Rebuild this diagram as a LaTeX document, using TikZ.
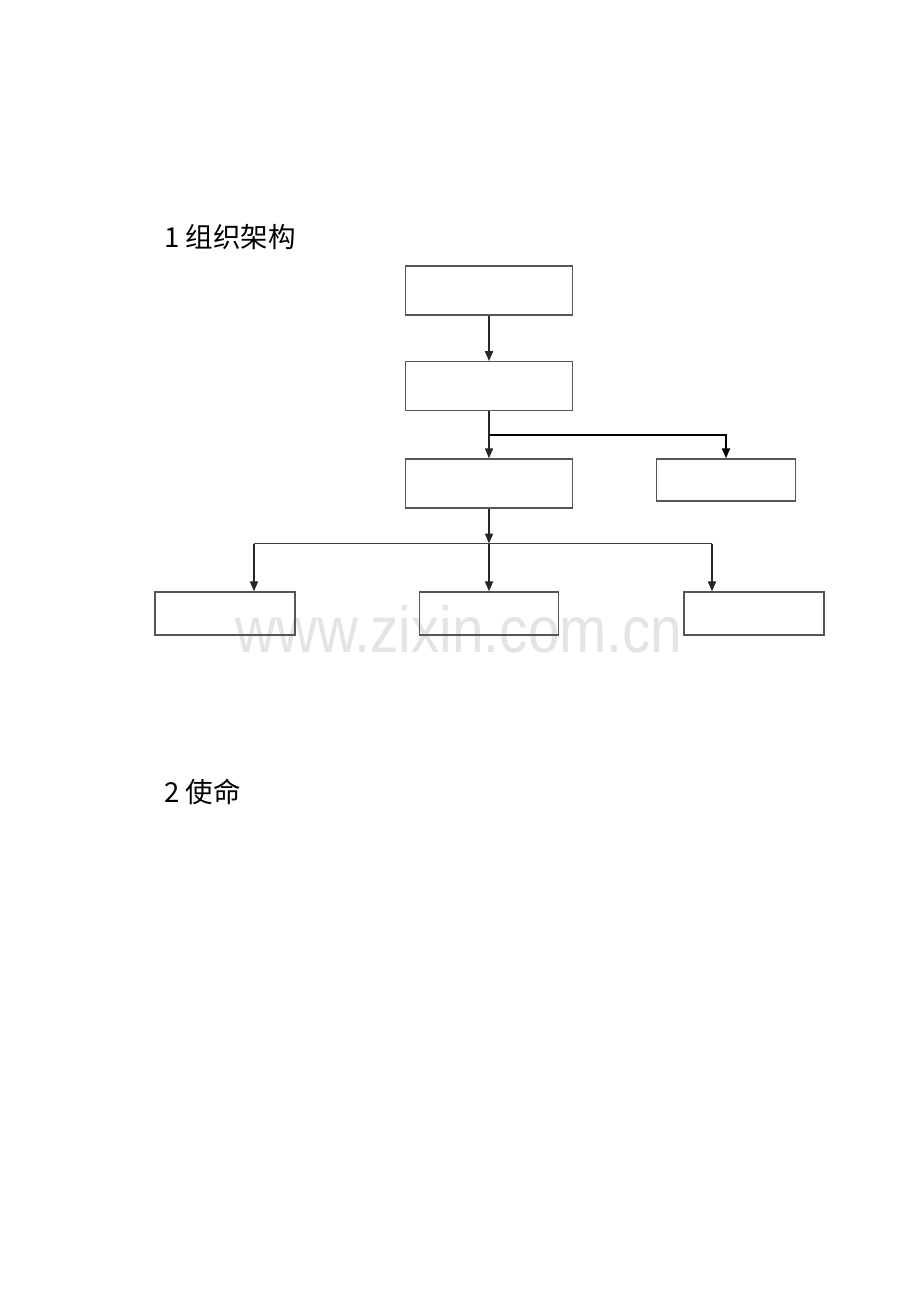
\documentclass[tikz,border=0pt]{standalone}
\usepackage{fontspec}
\setmainfont{Liberation Sans}
\newfontfamily\cjk{Noto Sans CJK SC}
\usetikzlibrary{arrows.meta}
\definecolor{boxline}{HTML}{555555}
\definecolor{wmark}{HTML}{E4E4E4}
\tikzset{
  orgbox/.style={draw=boxline, line width=1.3pt, fill=none, inner sep=0pt, minimum width=#1},
  orgbox/.default=167pt,
  conn/.style={draw=black!85, line width=1.7pt, -{Triangle[length=10pt,width=8pt]}},
  plainconn/.style={draw=black!75, line width=1.3pt},
  heading/.style={font=\cjk\fontsize{27.5pt}{32pt}\selectfont, anchor=west, inner sep=0pt},
}
\begin{document}
\begin{tikzpicture}[x=1pt,y=-1pt]
\useasboundingbox (0,0) rectangle (920,1302);
\fill[white] (0,0) rectangle (920,1302);
% watermark
\node[anchor=base west, inner sep=0pt, text=wmark, font=\fontsize{65pt}{70pt}\selectfont] (wm) at (235,652) {\scalebox{0.872}[1]{www.zixin.com.cn}};
% headings
\node[heading] (h1) at (164,237) {1 组织架构};
\node[heading] (h2) at (164,792) {2 使命};
% boxes
\node[orgbox, minimum height=49pt] (b1) at (489,290.5) {};
\node[orgbox, minimum height=48.5pt] (b2) at (489,386) {};
\node[orgbox, minimum height=49pt] (b3) at (489,483.5) {};
\node[orgbox=139.5pt, minimum height=42pt] (b4) at (726,480) {};
\node[orgbox=140pt, minimum height=43pt] (bl) at (225,613.5) {};
\node[orgbox=139pt, minimum height=43pt] (bm) at (489,613.5) {};
\node[orgbox=140pt, minimum height=43pt] (br) at (754,613.5) {};
% connectors
\draw[conn] (b1.south) -- (b2.north);
\draw[conn] (b2.south) -- (b3.north);
\coordinate (j1) at (489,435);
\draw[conn, line width=2pt, draw=black] (j1) -| (b4.north);
\coordinate (bus) at (489,543.5);
\coordinate (busL) at (254,543.5);
\coordinate (busR) at (712,543.5);
\draw[conn] (b3.south) -- (bus);
\draw[plainconn] (busL) -- (busR);
\draw[conn] (busL) -- (busL |- bl.north);
\draw[conn] (bus) -- (bm.north);
\draw[conn] (busR) -- (busR |- br.north);
\end{tikzpicture}
\end{document}
